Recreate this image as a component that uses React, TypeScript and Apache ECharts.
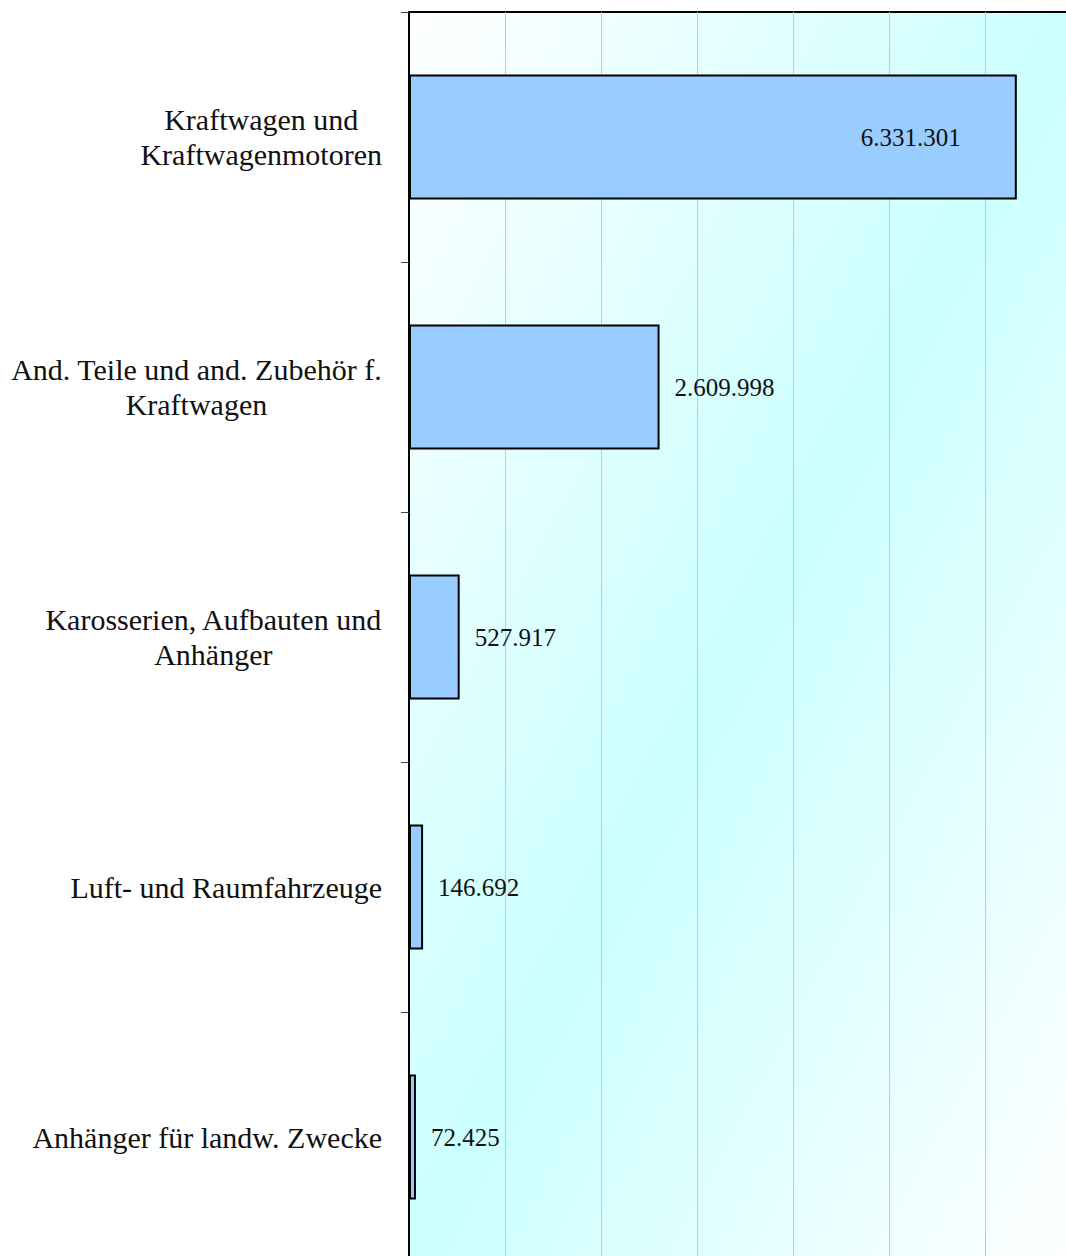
import React, { useEffect, useRef } from "react";
import * as echarts from "echarts";

const categories: string[] = [
  "Kraftwagen und\nKraftwagenmotoren",
  "And. Teile und and. Zubehör f.\nKraftwagen",
  "Karosserien, Aufbauten und\nAnhänger",
  "Luft- und Raumfahrzeuge",
  "Anhänger für landw. Zwecke",
];
const values: number[] = [6331301, 2609998, 527917, 146692, 72425];

const AXIS_MIN = 0;
const AXIS_MAX = 7000000;
const AXIS_INTERVAL = 1000000;

const CAT_FONT = 30;
const VAL_FONT = 25;
const FONT_FAMILY = '"Liberation Serif", "Times New Roman", serif';

function fmt(v: number): string {
  return String(v).replace(/\B(?=(\d{3})+(?!\d))/g, ".");
}

function measure(text: string, size: number): number {
  const c = document.createElement("canvas");
  const ctx = c.getContext("2d");
  if (!ctx) return text.length * size * 0.5;
  ctx.font = `${size}px ${FONT_FAMILY}`;
  return ctx.measureText(text).width;
}

export default function App() {
  const ref = useRef<HTMLDivElement>(null);
  useEffect(() => {
    if (!ref.current) return;
    const chart = echarts.init(ref.current, undefined, { renderer: "svg" });

    const rich: Record<string, any> = {};
    categories.forEach((c, i) => {
      const w = Math.max(...c.split("\n").map((l) => measure(l, CAT_FONT))) + 2;
      rich["c" + i] = {
        width: w,
        align: "center",
        fontSize: CAT_FONT,
        fontFamily: FONT_FAMILY,
        lineHeight: 35,
        color: "#111",
      };
    });

    chart.setOption({
      animation: false,
      grid: {
        left: 409,
        top: 12,
        width: 672,
        height: 1250,
        outerBoundsMode: "none",
        containLabel: false,
        show: true,
        borderColor: "#000",
        borderWidth: 2,
        backgroundColor: new echarts.graphic.LinearGradient(
          409,
          12,
          1452,
          572,
          [
            { offset: 0, color: "#ffffff" },
            { offset: 0.5, color: "#ccffff" },
            { offset: 1, color: "#ffffff" },
          ],
          true
        ),
      },
      xAxis: {
        type: "value",
        min: AXIS_MIN,
        max: AXIS_MAX,
        interval: AXIS_INTERVAL,
        axisLabel: { show: false },
        axisLine: { show: false },
        axisTick: { show: false },
        splitLine: { show: true, lineStyle: { color: "#c8c8c8", width: 1 } },
      },
      yAxis: {
        type: "category",
        inverse: true,
        data: categories,
        axisLine: { show: true, lineStyle: { color: "#000", width: 2 } },
        axisTick: {
          show: true,
          length: 8,
          interval: 0,
          lineStyle: { color: "#444", width: 1 },
        },
        axisLabel: {
          interval: 0,
          margin: 26,
          align: "right",
          formatter: (value: string, index: number) =>
            value
              .split("\n")
              .map((l) => `{c${index}|${l}}`)
              .join("\n"),
          rich,
        },
      },
      series: [
        {
          type: "bar",
          barWidth: "50%",
          data: values.map((v, i) => ({
            value: v,
            label:
              i === 0
                ? { position: "insideRight", distance: 56 }
                : { position: "right", distance: 15 },
          })),
          itemStyle: { color: "#99ccff", borderColor: "#000", borderWidth: 2 },
          label: {
            show: true,
            formatter: (p: any) => fmt(p.value),
            fontSize: VAL_FONT,
            fontFamily: FONT_FAMILY,
            color: "#111",
          },
        },
      ],
    });
    return () => chart.dispose();
  }, []);

  return (
    <div
      style={{
        position: "absolute",
        left: 0,
        top: 0,
        width: 1066,
        height: 1256,
        overflow: "hidden",
        background: "#fff",
      }}
    >
      <div ref={ref} style={{ width: 1100, height: 1280 }} />
    </div>
  );
}
